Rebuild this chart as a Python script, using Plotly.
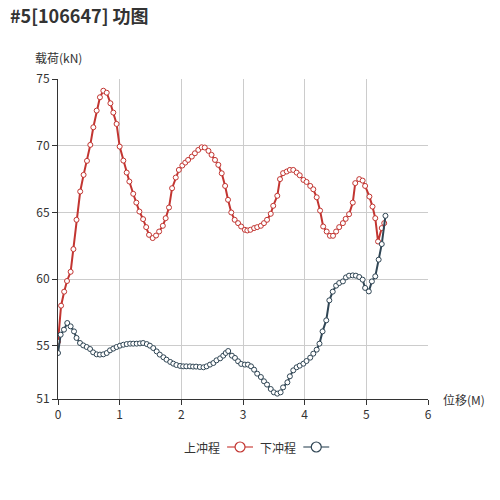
import plotly.graph_objects as go

# upstroke (上冲程) displacement / load
up_x = [0, 0.05, 0.10, 0.146, 0.205, 0.25, 0.30, 0.36, 0.415, 0.47,
        0.524, 0.573, 0.627, 0.68, 0.735, 0.79, 0.85, 0.897, 0.95, 1.0,
        1.06, 1.114, 1.157, 1.22, 1.27, 1.32, 1.38, 1.43, 1.476, 1.535,
        1.59, 1.64, 1.70, 1.746, 1.80, 1.85, 1.91, 1.96, 2.016, 2.064,
        2.11, 2.17, 2.22, 2.275, 2.33, 2.38, 2.44, 2.49, 2.546, 2.60,
        2.655, 2.71, 2.757, 2.81, 2.865, 2.92, 2.97, 3.03, 3.07, 3.12,
        3.18, 3.23, 3.29, 3.34, 3.39, 3.45, 3.49, 3.556, 3.60, 3.65,
        3.71, 3.76, 3.815, 3.87, 3.92, 3.98, 4.03, 4.09, 4.14, 4.195,
        4.25, 4.30, 4.357, 4.41, 4.46, 4.51, 4.56, 4.62, 4.665, 4.72,
        4.78, 4.82, 4.885, 4.94, 4.98, 5.05, 5.10, 5.145, 5.19, 5.25, 5.29]
up_y = [55.3, 58.0, 59.05, 59.85, 60.54, 62.24, 64.44, 66.56, 67.81, 68.86,
        70.06, 71.38, 72.63, 73.63, 74.12, 73.97, 73.18, 72.48, 71.63, 69.93,
        68.88, 67.98, 67.31, 66.39, 65.73, 65.06, 64.49, 63.89, 63.31, 63.07,
        63.26, 63.56, 63.99, 64.56, 65.36, 66.81, 67.61, 68.18, 68.51, 68.73,
        68.93, 69.18, 69.43, 69.68, 69.88, 69.86, 69.61, 69.31, 68.93, 68.56,
        67.93, 66.98, 65.94, 64.99, 64.44, 64.19, 63.94, 63.69, 63.64, 63.69,
        63.82, 63.89, 63.99, 64.19, 64.44, 64.89, 65.49, 66.24, 67.49, 67.94,
        68.06, 68.18, 68.18, 67.98, 67.78, 67.43, 67.28, 66.98, 66.73, 66.13,
        65.13, 63.94, 63.56, 63.24, 63.24, 63.56, 63.89, 64.19, 64.51, 64.86,
        65.73, 67.19, 67.49, 67.38, 66.98, 66.18, 65.43, 64.56, 62.81, 63.82, 64.19]

# downstroke (下冲程)
down_x = [0, 0.043, 0.097, 0.15, 0.205, 0.26, 0.30, 0.357, 0.41, 0.465,
          0.52, 0.57, 0.627, 0.68, 0.735, 0.79, 0.843, 0.897, 0.95, 1.005,
          1.06, 1.114, 1.17, 1.22, 1.276, 1.33, 1.38, 1.44, 1.49, 1.545,
          1.60, 1.65, 1.71, 1.76, 1.82, 1.87, 1.92, 1.98, 2.03, 2.08,
          2.14, 2.19, 2.24, 2.30, 2.36, 2.41, 2.465, 2.52, 2.57, 2.63,
          2.68, 2.72, 2.76, 2.82, 2.87, 2.92, 2.97, 3.03, 3.08, 3.13,
          3.18, 3.23, 3.29, 3.34, 3.39, 3.45, 3.50, 3.556, 3.61, 3.65,
          3.72, 3.76, 3.815, 3.87, 3.92, 3.98, 4.03, 4.09, 4.14, 4.195,
          4.24, 4.29, 4.35, 4.40, 4.455, 4.51, 4.56, 4.62, 4.67, 4.72,
          4.78, 4.83, 4.885, 4.94, 4.98, 5.04, 5.09, 5.145, 5.20, 5.25, 5.31]
down_y = [54.45, 55.82, 56.2, 56.7, 56.45, 56.07, 55.58, 55.2, 55.02, 54.9,
          54.75, 54.5, 54.35, 54.33, 54.35, 54.45, 54.65, 54.78, 54.9, 55.0,
          55.07, 55.12, 55.15, 55.15, 55.15, 55.17, 55.2, 55.12, 55.0, 54.82,
          54.57, 54.33, 54.13, 53.95, 53.78, 53.65, 53.55, 53.48, 53.45, 53.45,
          53.45, 53.43, 53.43, 53.4, 53.38, 53.45, 53.58, 53.7, 53.9, 54.05,
          54.25, 54.45, 54.6, 54.25, 54.08, 53.83, 53.63, 53.58, 53.58, 53.45,
          53.2, 52.9, 52.65, 52.33, 52.08, 51.75, 51.5, 51.4, 51.5, 51.87,
          52.25, 52.7, 53.15, 53.38, 53.5, 53.65, 53.85, 54.1, 54.4, 54.7,
          55.15, 56.07, 56.9, 58.4, 59.05, 59.5, 59.7, 59.82, 60.12, 60.25,
          60.27, 60.25, 60.15, 59.95, 59.33, 59.07, 59.82, 60.2, 61.45, 62.62, 64.74]

y_ticks = [51, 55, 60, 65, 70, 75]
x_ticks = [0, 1, 2, 3, 4, 5, 6]

series = [("上冲程", up_x, up_y, "#c23531", "#e08e8b"),
          ("下冲程", down_x, down_y, "#2f4554", "#8d9aa3")]

FONT = "Noto Sans CJK SC"

fig = go.Figure()
for name, xs, ys, color, _ in series:
    fig.add_trace(go.Scatter(
        x=xs, y=ys, name=name, mode="lines+markers", showlegend=False,
        line=dict(color=color, width=2),
        marker=dict(symbol="circle", size=5, color="white",
                    line=dict(color=color, width=1)),
    ))

axis_common = dict(
    showline=True, linecolor="#333", linewidth=1,
    ticks="outside", ticklen=5, tickcolor="#333",
    showgrid=True, gridcolor="#ccc", gridwidth=1,
    zeroline=False, tickfont=dict(size=12, color="#333", family=FONT),
)

# legend drawn by hand: text first, icon to its right
annotations = [
    dict(text="载荷(kN)", xref="paper", yref="paper", x=0, y=1.066,
         xanchor="center", yanchor="middle", showarrow=False,
         font=dict(size=12, color="#333")),
    dict(text="位移(M)", xref="paper", yref="paper", x=1.035, y=0,
         xanchor="left", yanchor="middle", showarrow=False,
         font=dict(size=12, color="#333")),
]
shapes = []
leg_y = -0.15
for i, (name, _, _, color, light) in enumerate(series):
    x_text = 0.443 + i * 0.206
    x0 = x_text + 0.014
    x1 = x0 + 0.07
    xc = (x0 + x1) / 2
    annotations.append(dict(text=name, xref="paper", yref="paper", x=x_text,
                            y=leg_y, xanchor="right", yanchor="middle",
                            showarrow=False, font=dict(size=12, color="#333")))
    shapes.append(dict(type="line", xref="paper", yref="paper", x0=x0, x1=x1,
                       y0=leg_y, y1=leg_y, line=dict(color=light, width=2)))
    shapes.append(dict(type="circle", xref="paper", yref="paper",
                       x0=xc - 0.0135, x1=xc + 0.0135,
                       y0=leg_y - 0.0156, y1=leg_y + 0.0156,
                       fillcolor="white", line=dict(color=color, width=1.2)))

fig.update_layout(
    width=492, height=492,
    margin=dict(l=50, r=72, t=71, b=101, autoexpand=False),
    paper_bgcolor="white", plot_bgcolor="white",
    font=dict(family=FONT, color="#333"),
    title=dict(text="<b>#5[106647] 功图</b>", x=0.004, xanchor="left",
               y=0.996, yanchor="top", pad=dict(t=0),
               font=dict(size=18, color="#333")),
    xaxis=dict(range=[0, 6], tickvals=x_ticks, **axis_common),
    yaxis=dict(range=[51, 75], tickvals=y_ticks, **axis_common),
    annotations=annotations,
    shapes=shapes,
)

fig.write_html("out.html")
